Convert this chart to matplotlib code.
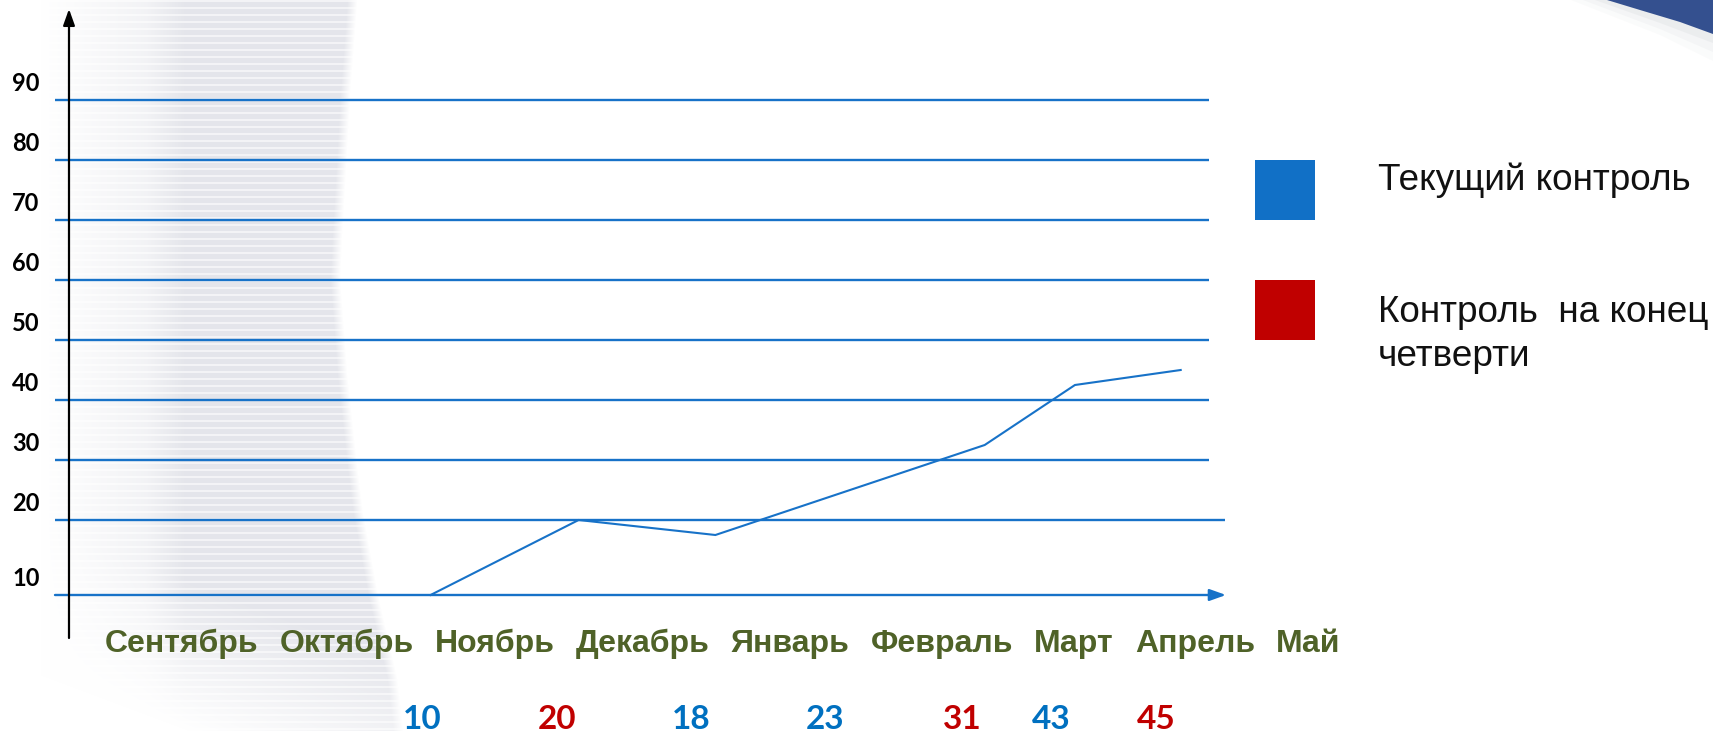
import numpy as np
import matplotlib
matplotlib.use('Agg')
import matplotlib.pyplot as plt
from matplotlib.transforms import ScaledTranslation, blended_transform_factory
from matplotlib.patches import Polygon, Rectangle

# ---------------- data ----------------
months = ['Сентябрь', 'Октябрь', 'Ноябрь', 'Декабрь', 'Январь',
          'Февраль', 'Март', 'Апрель', 'Май']
y_ticks = [10, 20, 30, 40, 50, 60, 70, 80, 90]
# progress line: position in months counted from September, level
line_x = [1.77, 2.82, 3.79, 5.70, 6.34, 7.09]
line_values = [10, 20, 18, 32.5, 42.5, 45]
# results written under the chart
scores = [10, 20, 18, 23, 31, 43, 45]
score_kind = ['current', 'quarter', 'current', 'current', 'quarter', 'current', 'quarter']
score_x = [1.71, 2.67, 3.62, 4.57, 5.54, 6.17, 6.92]
legend_labels = ['Текущий контроль', 'Контроль  на конец\nчетверти']
legend_kinds = ['current', 'quarter']

# ---------------- style ----------------
W, H, DPI = 1713, 731, 100
BLUE_LINE = '#1772C8'
KIND_COLORS = {'current': '#0070C0', 'quarter': '#C00000'}
LEGEND_COLORS = {'current': '#1170C6', 'quarter': '#C00000'}
OLIVE = '#4F6228'

X0, KX = 181.0, 141.0          # pixel of month 0, pixels per month
Y20, KY = 520.0, 6.0           # pixel of level 20, pixels per unit


def forward(v):
    v = np.asarray(v, dtype=float)
    return np.where(v < 20, 20 - (20 - v) * 1.25, v)


def inverse(u):
    u = np.asarray(u, dtype=float)
    return np.where(u < 20, 20 - (20 - u) / 1.25, u)


def px_to_x(px):
    return (px - X0) / KX


def py_to_v(py):
    return float(inverse(20 - (py - Y20) / KY))


fig = plt.figure(figsize=(W / DPI, H / DPI), dpi=DPI)
fig.patch.set_facecolor('white')

# ---------- decorative background (pixel coordinates) ----------
bg = fig.add_axes([0, 0, 1, 1], zorder=0)
bg.set_xlim(0, W)
bg.set_ylim(H, 0)
bg.axis('off')

yy, xx = np.mgrid[0:H, 0:W].astype(float)
edge = np.interp(yy[:, 0], [0, 93, 234, 280, 374, 467, 514, 596, 678, 731],
                 [357, 350, 342, 340, 347, 357, 363, 378, 397, 403])[:, None]
left_ramp = np.clip((xx - 40) / 105, 0, 1) * 0.45
core = np.where(xx > 145, 0.45 + 0.5 * np.clip((xx - 145) / 40, 0, 1), left_ramp)
right_fade = np.clip((edge - xx) / 10, 0, 1)
inten = core * right_fade
bottom = np.clip((735 - yy) / 150 + (xx - 200) / 400, 0, 1)
inten *= bottom
stripe = np.where((yy.astype(int) % 7) < 2, 0.45, 1.0)
inten *= stripe
delta = np.array([28, 27, 21]) / 255.0
img = np.ones((H, W, 3)) - inten[..., None] * delta[None, None, :]
bg.imshow(img, extent=(0, W, H, 0), interpolation='bilinear', aspect='auto')

# top-right swoosh with soft shadow
for k, a in enumerate([0.05, 0.08, 0.12]):
    off = 18 - k * 6
    bg.add_patch(Polygon([(1607 - off * 2, 0), (1713, 0), (1713, 34 + off * 1.5),
                          (1660, 17 + off)], closed=True,
                         facecolor='#b0b4bc', edgecolor='none', alpha=a))
bg.add_patch(Polygon([(1607, 0), (1640, 10), (1680, 22), (1713, 34), (1713, 0)],
                     closed=True, facecolor='#34508F', edgecolor='none'))

# legend squares and texts
legend_baselines = [[190], [322, 366]]
for i, (lab, kind) in enumerate(zip(legend_labels, legend_kinds)):
    top = 160 + i * 120
    bg.add_patch(Rectangle((1255, top), 60, 60, facecolor=LEGEND_COLORS[kind],
                           edgecolor='none'))
    for line, yb in zip(lab.split('\n'), legend_baselines[i]):
        bg.text(1378, yb, line, ha='left', va='baseline',
                fontsize=26.6, family='Liberation Sans', color='#111111')

# ---------------- main chart ----------------
ax = fig.add_axes([0, 0, 1, 1], zorder=1)
ax.patch.set_alpha(0)
ax.set_yscale('function', functions=(forward, inverse))
ax.set_xlim(px_to_x(0), px_to_x(W))
ax.set_ylim(py_to_v(H), py_to_v(0))
ax.axis('off')

# horizontal grid lines
for v in y_ticks[1:]:
    right = 1225 if v == 20 else 1209
    ax.plot([px_to_x(55), px_to_x(right)], [v, v], color=BLUE_LINE, lw=1.7,
            solid_capstyle='butt')

# baseline arrow (level 10)
ax.annotate('', xy=(px_to_x(1226), y_ticks[0]), xytext=(px_to_x(55), y_ticks[0]),
            arrowprops=dict(arrowstyle='-|>,head_length=0.7,head_width=0.25',
                            color=BLUE_LINE, lw=1.7, shrinkA=0, shrinkB=0,
                            mutation_scale=14))

# vertical axis arrow
ax.annotate('', xy=(px_to_x(69), py_to_v(9)), xytext=(px_to_x(69), py_to_v(638)),
            arrowprops=dict(arrowstyle='-|>,head_length=0.7,head_width=0.25',
                            color='black', lw=1.6, shrinkA=0, shrinkB=0,
                            mutation_scale=14))

# y labels
lab_tr = ax.transData + ScaledTranslation(0, 9 / DPI, fig.dpi_scale_trans)
for v in y_ticks:
    ax.text(px_to_x(26), v, str(v), ha='center', va='baseline', transform=lab_tr,
            fontsize=17, fontweight='bold', family='Lato', color='black')

# progress line
ax.plot(line_x, line_values, color=BLUE_LINE, lw=1.5, solid_joinstyle='miter')

# month names, laid out in one row
renderer = fig.canvas.get_renderer()
xpos = 105.0
for m in months:
    t = fig.text(xpos / W, 1 - 652 / H, m, ha='left', va='baseline',
                 fontsize=23, fontweight='bold', family='Liberation Sans',
                 color=OLIVE)
    xpos += t.get_window_extent(renderer).width + 21

# score values under the chart
sc_tr = blended_transform_factory(ax.transData, fig.transFigure)
for x, s, k in zip(score_x, scores, score_kind):
    ax.text(x, 1 - 729 / H, str(s), ha='center', va='baseline', transform=sc_tr,
            fontsize=24, fontweight='bold', family='Lato', color=KIND_COLORS[k])

fig.savefig('out.png', dpi=DPI, facecolor='white')
